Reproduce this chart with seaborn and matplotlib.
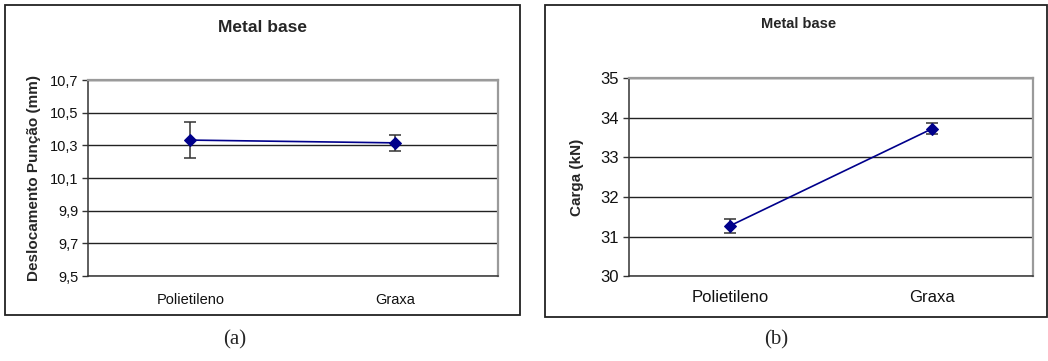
import matplotlib
matplotlib.use("Agg")
import matplotlib.pyplot as plt
from matplotlib.patches import Rectangle
import seaborn as sns
import pandas as pd

# Lubricant conditions and measured results (mean ± deviation)
categories = ["Polietileno", "Graxa"]
deslocamento = [10.333, 10.316]
deslocamento_err = [0.112, 0.051]
carga = [31.27, 33.72]
carga_err = [0.18, 0.14]

yticks_a = [9.5, 9.7, 9.9, 10.1, 10.3, 10.5, 10.7]
yticks_b = [30, 31, 32, 33, 34, 35]

sns.set_theme(style="white")
plt.rcParams["font.family"] = ["Liberation Sans", "DejaVu Sans"]

fig = plt.figure(figsize=(10.48, 3.61), dpi=100)

# Outer frames around each chart
fig.patches.append(Rectangle((0.0048, 0.127), 0.491, 0.859, transform=fig.transFigure,
                             fill=False, edgecolor="#222222", linewidth=1.3))
fig.patches.append(Rectangle((0.520, 0.122), 0.479, 0.864, transform=fig.transFigure,
                             fill=False, edgecolor="#222222", linewidth=1.3))

ax_a = fig.add_axes([0.084, 0.235, 0.391, 0.543])
ax_b = fig.add_axes([0.600, 0.235, 0.386, 0.549])

navy = "#00008B"


def draw_panel(ax, values, errs, yticks, ylabel, fmt, tick_size, label_size, xpad, ypad):
    df = pd.DataFrame({"cond": categories, "val": values})
    sns.lineplot(data=df, x="cond", y="val", ax=ax, color=navy, linewidth=1.2,
                 marker="D", markersize=6.5, markeredgecolor=navy, zorder=4)
    ax.errorbar(range(len(categories)), values, yerr=errs, fmt="none",
                ecolor="#333333", elinewidth=1.1, capsize=4.5, capthick=1.1, zorder=3)
    ax.set_xlim(-0.5, len(categories) - 0.5)
    ax.set_ylim(yticks[0], yticks[-1])
    ax.set_yticks(yticks)
    ax.set_yticklabels([fmt(v) for v in yticks], fontsize=tick_size, color="#111111")
    ax.set_xticks(range(len(categories)))
    ax.set_xticklabels(categories, fontsize=tick_size, color="#111111")
    ax.set_xticks([-0.5, 0.5, 1.5], minor=True)
    ax.tick_params(axis="x", which="major", length=0, pad=xpad)
    ax.tick_params(axis="x", which="minor", direction="out", length=4, width=1, color="#333333")
    ax.tick_params(axis="y", direction="out", length=4, width=1, color="#333333", pad=3, left=True)
    ax.yaxis.grid(True, color="#222222", linewidth=1.0)
    ax.set_axisbelow(True)
    for side in ("left", "bottom"):
        ax.spines[side].set_color("#333333")
        ax.spines[side].set_linewidth(1.1)
    for side in ("top", "right"):
        ax.spines[side].set_color("#9a9a9a")
        ax.spines[side].set_linewidth(1.6)
    ax.set_xlabel("")
    ax.set_ylabel(ylabel, fontsize=label_size, fontweight="bold", labelpad=ypad)


draw_panel(ax_a, deslocamento, deslocamento_err, yticks_a, "Deslocamento Punção (mm)",
           lambda v: f"{v:.1f}".replace(".", ","), 10.5, 11, 12, 6)
draw_panel(ax_b, carga, carga_err, yticks_b, "Carga (kN)",
           lambda v: f"{v:d}", 12, 11, 10, 12)

# Chart titles
fig.text(0.250, 0.925, "Metal base", ha="center", va="center", fontsize=12.5, fontweight="bold")
fig.text(0.762, 0.934, "Metal base", ha="center", va="center", fontsize=10.5,
         fontweight="bold")

# Sub-figure captions
fig.text(0.224, 0.058, "(a)", ha="center", va="center", fontsize=15,
         family=["Liberation Serif", "DejaVu Serif"])
fig.text(0.741, 0.058, "(b)", ha="center", va="center", fontsize=15,
         family=["Liberation Serif", "DejaVu Serif"])

fig.savefig("out.png", dpi=100)
